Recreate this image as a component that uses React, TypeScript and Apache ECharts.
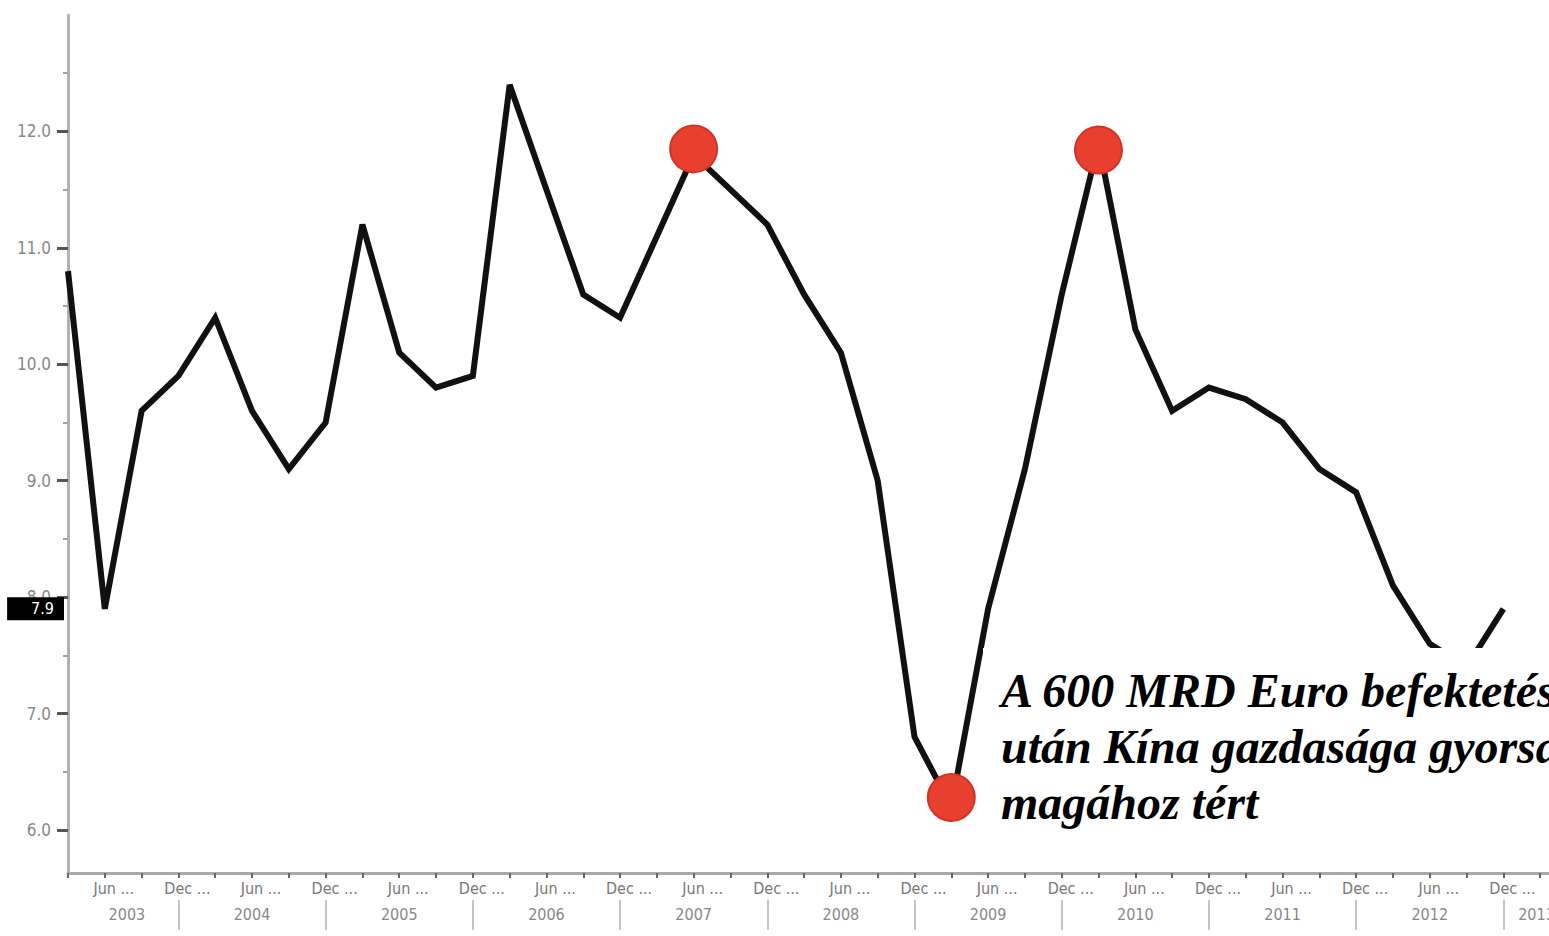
import React, { useEffect, useRef } from "react";
import * as echarts from "echarts";

// ---- data ----
const years = ["2003", "2004", "2005", "2006", "2007", "2008", "2009", "2010", "2011", "2012", "2013"];
const quarters = ["Q1", "Q2", "Q3", "Q4"];
const categories = years.flatMap((y) => quarters.map((q) => `${q} ${y}`)).slice(0, 42);

// China real GDP growth, % y/y, quarterly Q1 2003 – Q4 2012
const gdpGrowth = [
  10.8, 7.9, 9.6, 9.9,
  10.4, 9.6, 9.1, 9.5,
  11.2, 10.1, 9.8, 9.9,
  12.4, 11.5, 10.6, 10.4,
  11.1, 11.8, 11.5, 11.2,
  10.6, 10.1, 9.0, 6.8,
  6.2, 7.9, 9.1, 10.6,
  11.9, 10.3, 9.6, 9.8,
  9.7, 9.5, 9.1, 8.9,
  8.1, 7.6, 7.4, 7.9,
];

// highlighted turning points
const highlightIndex = [17, 24, 28];
const highlightValue = [11.85, 6.28, 11.84];

// axis ticks / labels
const yMajor = [6, 7, 8, 9, 10, 11, 12];
const yMinor = [6.5, 7.5, 8.5, 9.5, 10.5, 11.5, 12.5];
const yearLabelPos = [1.6, 5, 9, 13, 17, 21, 25, 29, 33, 37, 39.9];
const yearDividers = [3, 7, 11, 15, 19, 23, 27, 31, 35, 39];
const lastValue = 7.9;
const noteLines = ["A 600 MRD Euro befektetés", "után Kína gazdasága gyorsan", "magához tért"];

const Y_MIN = 5.631;
const Y_MAX = 13;

export default function App() {
  const ref = useRef<HTMLDivElement>(null);

  useEffect(() => {
    if (!ref.current) return;
    const chart = echarts.init(ref.current, undefined, { renderer: "svg", width: 1600, height: 936 });
    const labelFont = '"DejaVu Sans Condensed", "Liberation Sans Narrow", "DejaVu Sans", sans-serif';

    const option: any = {
      animation: false,
      backgroundColor: "#ffffff",
      grid: {
        left: 68,
        right: 23,
        top: 15,
        bottom: 63,
        containLabel: false,
        outerBoundsMode: "none",
      },
      xAxis: [
        {
          type: "category",
          data: categories,
          boundaryGap: false,
          axisLine: { show: true, lineStyle: { color: "#a8a8a8", width: 3 } },
          axisTick: { show: true, interval: 0, length: 5, lineStyle: { color: "#666", width: 2 } },
          axisLabel: {
            interval: (i: number) => i % 2 === 1,
            formatter: (_v: string, i: number) => (i % 4 === 1 ? "Jun ..." : "Dec ..."),
            color: "#777777",
            fontSize: 16,
            fontFamily: labelFont,
            margin: 7,
            padding: [0, 0, 0, 18],
          },
          splitLine: { show: false },
        },
        {
          type: "value",
          position: "bottom",
          offset: 27,
          min: 0,
          max: categories.length - 1,
          axisLine: { show: false },
          axisTick: {
            show: true,
            customValues: yearDividers,
            length: 30,
            lineStyle: { color: "#c4c4c4", width: 2 },
          },
          axisLabel: {
            show: true,
            customValues: yearLabelPos,
            formatter: (v: number) => {
              const k = yearLabelPos.findIndex((p) => Math.abs(p - v) < 1e-6);
              return k >= 0 ? years[k] : "";
            },
            color: "#888888",
            fontSize: 16,
            fontFamily: labelFont,
            margin: 6,
          },
          splitLine: { show: false },
        },
      ],
      yAxis: [
        {
          type: "value",
          min: Y_MIN,
          max: Y_MAX,
          axisLine: { show: true, lineStyle: { color: "#b2b2b2", width: 3 } },
          axisTick: { show: true, customValues: yMajor, length: 11, lineStyle: { color: "#555", width: 3 } },
          axisLabel: {
            show: true,
            customValues: yMajor,
            formatter: (v: number) => v.toFixed(1),
            color: "#888888",
            fontSize: 17,
            fontFamily: labelFont,
            margin: 17,
          },
          splitLine: { show: false },
        },
        {
          type: "value",
          min: Y_MIN,
          max: Y_MAX,
          position: "left",
          axisLine: { show: false },
          axisTick: { show: true, customValues: yMinor, length: 5, lineStyle: { color: "#a0a0a0", width: 2 } },
          axisLabel: { show: false },
          splitLine: { show: false },
        },
      ],
      series: [
        {
          type: "line",
          data: gdpGrowth,
          xAxisIndex: 0,
          yAxisIndex: 0,
          symbol: "none",
          lineStyle: { color: "#111111", width: 6, join: "miter" },
          z: 3,
          markLine: {
            silent: true,
            symbol: ["none", "none"],
            lineStyle: { color: "rgba(0,0,0,0)", width: 1, type: "solid" },
            data: [{ yAxis: lastValue }],
            label: {
              show: true,
              position: "start",
              formatter: lastValue.toFixed(1),
              color: "#ffffff",
              backgroundColor: "#000000",
              padding: [4, 10, 3, 24],
              fontSize: 16,
              fontFamily: labelFont,
              distance: 4,
            },
          },
        },
        {
          type: "scatter",
          xAxisIndex: 0,
          yAxisIndex: 0,
          data: highlightIndex.map((idx, k) => [idx, highlightValue[k]]),
          symbol: "circle",
          symbolSize: 47,
          itemStyle: { color: "#e8402f", borderColor: "#cf3327", borderWidth: 2, opacity: 1 },
          z: 5,
        },
      ],
      graphic: [
        {
          type: "rect",
          shape: { x: 983, y: 648, width: 700, height: 200 },
          style: { fill: "#ffffff" },
          z: 100,
        },
        ...noteLines.map((t, k) => ({
          type: "text",
          x: 1001,
          y: 690 + k * 56,
          z: 101,
          style: {
            text: t,
            fill: "#000000",
            fontSize: 48,
            fontWeight: "bold",
            fontStyle: "italic",
            fontFamily: '"Liberation Serif", "Times New Roman", serif',
            verticalAlign: "middle",
            align: "left",
          },
        })),
      ],
    };

    chart.setOption(option);
    return () => chart.dispose();
  }, []);

  return (
    <div
      style={{
        position: "fixed",
        left: 0,
        top: 0,
        width: 1549,
        height: 936,
        overflow: "hidden",
        background: "#fff",
      }}
    >
      <div ref={ref} style={{ width: 1600, height: 936 }} />
    </div>
  );
}
